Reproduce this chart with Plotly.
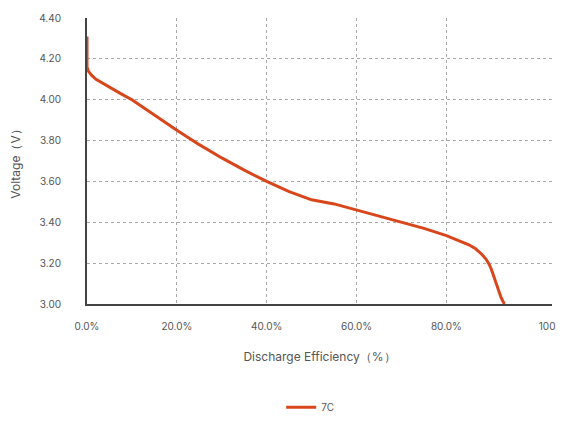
import plotly.graph_objects as go

efficiency = [0, 0, 0.3, 1, 2, 3.5, 5, 7.5, 10, 15, 20, 25, 30, 35, 40, 45, 50, 55, 60, 65, 70, 75, 80, 83, 85, 86.5, 87.8, 88.8, 89.5, 90.0, 90.5, 91.0, 91.6, 92.2, 92.9]
voltage = [4.31, 4.16, 4.14, 4.12, 4.10, 4.08, 4.06, 4.03, 4.00, 3.925, 3.85, 3.78, 3.715, 3.655, 3.60, 3.55, 3.51, 3.49, 3.46, 3.43, 3.40, 3.37, 3.335, 3.31, 3.29, 3.27, 3.245, 3.22, 3.195, 3.17, 3.14, 3.10, 3.065, 3.03, 3.00]
x_ticks = [0, 20, 40, 60, 80, 103.5]
x_labels = ["0.0%", "20.0%", "40.0%", "60.0%", "80.0%", "100%"]
y_ticks = [3.0, 3.2, 3.4, 3.6, 3.8, 4.0, 4.2, 4.4]

fig = go.Figure(go.Scatter(x=efficiency, y=voltage, mode="lines", name="7C",
                           line=dict(color="#d8461b", width=3)))

fig.update_layout(
    width=564, height=424, plot_bgcolor="white", paper_bgcolor="white",
    margin=dict(l=79, r=20, t=10, b=117),
    font=dict(family="Inter, Roboto, sans-serif", size=10, color="#555"),
    showlegend=True,
    legend=dict(orientation="h", x=0.48, xanchor="center", y=-0.31, yanchor="top",
                font=dict(size=10, color="#555")),
)
fig.update_xaxes(range=[0, 103.5], tickvals=x_ticks, ticktext=x_labels,
                 showgrid=True, gridcolor="#aaa", griddash="dot", gridwidth=1,
                 showline=True, linecolor="#444", linewidth=2, zeroline=False,
                 ticks="", ticklabelstandoff=12, automargin=False,
                 title=dict(text="Discharge Efficiency（%）", standoff=22))
fig.update_yaxes(range=[3.0, 4.4], tickvals=y_ticks, tickformat=".2f",
                 showgrid=True, gridcolor="#aaa", griddash="dot", gridwidth=1,
                 showline=True, linecolor="#444", linewidth=2, zeroline=False,
                 ticks="", ticklabelstandoff=22, automargin=False,
                 title=dict(text="Voltage（V）", standoff=24))

fig.write_html("out.html")
